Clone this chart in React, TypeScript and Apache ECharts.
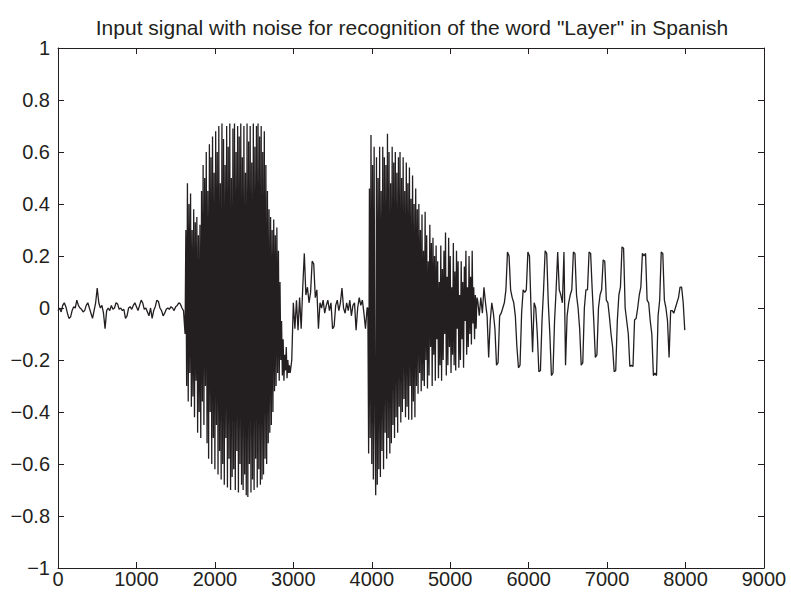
import React, { useEffect, useRef } from "react";
import * as echarts from "echarts";

const TITLE = 'Input signal with noise for recognition of the word "Layer" in Spanish';
const X_MIN = 0;
const X_MAX = 9000;
const X_INTERVAL = 1000;
const Y_MIN = -1;
const Y_MAX = 1;
const Y_INTERVAL = 0.2;

// Leading silence with low noise (sample index start / spacing / amplitudes)
const silenceStart = 0;
const silenceStep = 20;
const silence = [
  -0.01, 0.0, -0.015, 0.01, 0.02, 0.005, -0.02, -0.04, -0.035, -0.01,
  0.005, 0.0, 0.03, 0.01, 0.0, -0.005, -0.015, -0.01, 0.01, 0.02,
  0.0, -0.02, -0.04, -0.01, 0.02, 0.077, 0.02, 0.0, 0.01, -0.02,
  -0.08, -0.01, 0.0, -0.01, 0.01, -0.005, 0.0, 0.02, 0.015, -0.005,
  0.0, -0.01, -0.005, -0.04, -0.03, 0.0, 0.005, -0.005, 0.01, 0.02,
  0.005, -0.01, 0.01, 0.03, 0.02, -0.005, 0.0, -0.015, -0.03, 0.0,
  -0.04, -0.01, 0.005, 0.03, 0.025, 0.0, -0.01, -0.03, -0.02, -0.005,
  0.0, -0.005, 0.005, 0.0, -0.01, 0.005, 0.01, 0.02, 0.015, 0.0,
  -0.01,
];

// First voiced burst
const burst1Start = 1620;
const burst1Step = 10;
const burst1 = [
  -0.1, 0.3, -0.3, 0.48, -0.36, 0.4, -0.25, 0.44, -0.38, 0.3,
  -0.34, 0.38, -0.42, 0.33, -0.28, 0.35, -0.48, 0.28, -0.4, 0.32,
  -0.5, 0.45, -0.36, 0.55, -0.45, 0.5, -0.3, 0.6, -0.52, 0.45,
  -0.58, 0.63, -0.4, 0.58, -0.6, 0.66, -0.5, 0.52, -0.62, 0.68,
  -0.45, 0.6, -0.64, 0.7, -0.55, 0.48, -0.66, 0.71, -0.6, 0.65,
  -0.68, 0.55, -0.5, 0.7, -0.69, 0.62, -0.58, 0.71, -0.7, 0.5,
  -0.65, 0.69, -0.62, 0.71, -0.7, 0.6, -0.55, 0.7, -0.71, 0.66,
  -0.6, 0.71, -0.68, 0.58, -0.7, 0.7, -0.64, 0.52, -0.72, 0.71,
  -0.727, 0.64, -0.6, 0.7, -0.71, 0.56, -0.66, 0.71, -0.7, 0.62,
  -0.58, 0.7, -0.69, 0.71, -0.62, 0.66, -0.68, 0.7, -0.66, 0.6,
  -0.64, 0.68, -0.58, 0.55, -0.6, 0.45, -0.52, 0.38, -0.48, 0.35,
  -0.45, 0.3, -0.4, 0.34, -0.32, 0.28, -0.3, 0.31, -0.25, 0.22,
  -0.28, 0.1, -0.2, -0.05, -0.26, -0.12, -0.28, -0.18, -0.24, -0.15,
  -0.27, -0.2, -0.25, -0.22,
];

// Pause between the two bursts
const gapStart = 2960;
const gapStep = 20;
const gap = [
  -0.25, -0.2, 0.02, -0.08, 0.03, -0.085, 0.04, -0.08, 0.08, 0.21,
  0.05, 0.08, 0.02, 0.06, 0.18, 0.17, 0.04, 0.07, -0.08, 0.02,
  0.0, 0.03, -0.02, 0.01, 0.03, -0.01, 0.02, -0.08, -0.07, 0.01,
  0.03, -0.01, 0.02, 0.077, 0.0, -0.02, 0.02, -0.01, 0.03, -0.03,
  0.01, 0.02, -0.085, 0.0, 0.04, 0.01, 0.03, -0.02, -0.08, 0.0,
];

// Second voiced burst
const burst2Start = 3950;
const burst2Step = 10;
const burst2 = [
  0.0, -0.56, 0.46, -0.5, 0.665, -0.6, 0.55, -0.66, 0.62, -0.45,
  -0.72, 0.58, -0.68, 0.5, -0.62, 0.62, -0.65, 0.45, -0.55, 0.62,
  -0.62, 0.58, -0.48, 0.55, -0.58, 0.67, -0.5, 0.6, -0.56, 0.48,
  -0.52, 0.62, -0.45, 0.56, -0.5, 0.6, -0.42, 0.52, -0.48, 0.58,
  -0.38, 0.6, -0.44, 0.5, -0.4, 0.58, -0.35, 0.45, -0.42, 0.56,
  -0.38, 0.48, -0.43, 0.54, -0.3, 0.42, -0.43, 0.51, -0.36, 0.4,
  -0.42, 0.46, -0.3, 0.38, -0.33, 0.4, -0.25, 0.3, -0.32, 0.36,
  -0.28, 0.22, -0.3, 0.37, -0.2, 0.28, -0.31, 0.18, -0.26, 0.32,
  -0.15, 0.25, -0.3, 0.27, -0.18, 0.2, -0.28, 0.24, -0.12, 0.18,
  -0.27, 0.1, -0.22, 0.24, -0.28, 0.15, -0.2, 0.22, -0.1, 0.29,
  -0.26, 0.12, -0.22, 0.27, -0.15, 0.2, -0.25, 0.08, -0.18, 0.25,
  -0.22, 0.14, -0.24, 0.22, -0.08, 0.18, -0.23, 0.05, -0.2, 0.18,
  -0.12, 0.1, -0.23, 0.16, -0.05, 0.22, -0.18, 0.08, -0.15, 0.2,
  -0.1, 0.12, -0.14, 0.22, -0.06, 0.08, -0.12, 0.05, -0.08, 0.04,
];

// Periodic tail of the word
const tailStart = 5350;
const tailStep = 20;
const tail = [
  0.03, -0.03, 0.04, -0.02, 0.08, 0.02, -0.03, -0.19, -0.05, 0.02,
  -0.02, -0.08, -0.22, -0.21, -0.03, -0.02, 0.0, 0.02, 0.07, 0.215,
  0.2, 0.07, 0.04, 0.02, -0.03, -0.15, -0.23, -0.22, -0.02, 0.07,
  0.06, 0.07, 0.215, 0.2, 0.0, -0.17, 0.02, 0.0, -0.1, -0.245,
  -0.24, -0.05, 0.07, 0.22, 0.21, 0.02, -0.1, -0.26, -0.25, -0.05,
  0.07, 0.215, 0.07, 0.05, 0.02, 0.215, -0.22, -0.03, 0.02, 0.05,
  0.07, 0.215, 0.21, 0.05, 0.0, -0.08, -0.22, -0.21, 0.0, 0.07,
  0.07, 0.215, 0.21, 0.07, -0.05, -0.19, -0.18, 0.0, 0.05, 0.07,
  0.185, 0.18, 0.03, 0.02, -0.035, -0.1, -0.15, -0.245, -0.24, -0.05,
  0.05, 0.08, 0.235, 0.23, 0.0, -0.05, -0.1, -0.225, -0.22, -0.225,
  -0.045, -0.04, 0.0, 0.05, 0.08, 0.21, 0.2, 0.21, 0.03, 0.02,
  -0.05, -0.1, -0.26, -0.25, -0.26, -0.03, 0.03, 0.215, 0.21, 0.03,
  0.0, -0.05, -0.19, -0.01, -0.01, -0.02, 0.0, 0.02, 0.04, 0.08,
  0.08, 0.02, -0.085,
];

const segments: Array<[number, number, number[]]> = [
  [silenceStart, silenceStep, silence],
  [burst1Start, burst1Step, burst1],
  [gapStart, gapStep, gap],
  [burst2Start, burst2Step, burst2],
  [tailStart, tailStep, tail],
];

const INK = "#231f20";
const FONT = "Liberation Sans, Arial, Helvetica, sans-serif";
const LABEL_SIZE = 20;

export default function App() {
  const ref = useRef<HTMLDivElement>(null);
  useEffect(() => {
    if (!ref.current) return;
    const chart = echarts.init(ref.current, undefined, { renderer: "svg" });
    const data: number[][] = [];
    segments.forEach(([start, step, vals]) => {
      vals.forEach((v, i) => data.push([start + i * step, v]));
    });
    const yFmt = (v: number) => {
      const r = Math.round(v * 10) / 10;
      return r < 0 ? "\u2212" + String(Math.abs(r)) : String(r);
    };
    const xFmt = (v: number) => String(Math.round(v));
    const axisCommon = {
      axisLine: { show: true, onZero: false, lineStyle: { color: INK, width: 1 } },
      axisTick: { show: true, inside: true, length: 6, lineStyle: { color: INK } },
      splitLine: { show: false },
    };
    chart.setOption({
      animation: false,
      backgroundColor: "#ffffff",
      grid: { left: 58, right: 27, top: 48, bottom: 29, containLabel: false },
      graphic: [
        {
          type: "text",
          x: 412,
          y: 27,
          style: {
            text: TITLE,
            textAlign: "center",
            textVerticalAlign: "middle",
            fontSize: 21,
            fontFamily: FONT,
            fill: INK,
          },
        },
      ],
      xAxis: [
        {
          type: "value",
          min: X_MIN,
          max: X_MAX,
          interval: X_INTERVAL,
          position: "bottom",
          ...axisCommon,
          axisLabel: { color: INK, fontSize: LABEL_SIZE, fontFamily: FONT, margin: 1, formatter: xFmt },
        },
        {
          type: "value",
          min: X_MIN,
          max: X_MAX,
          interval: X_INTERVAL,
          position: "top",
          ...axisCommon,
          axisLabel: { show: false },
        },
      ],
      yAxis: [
        {
          type: "value",
          min: Y_MIN,
          max: Y_MAX,
          interval: Y_INTERVAL,
          position: "left",
          ...axisCommon,
          axisLabel: { color: INK, fontSize: LABEL_SIZE, fontFamily: FONT, margin: 8, formatter: yFmt },
        },
        {
          type: "value",
          min: Y_MIN,
          max: Y_MAX,
          interval: Y_INTERVAL,
          position: "right",
          ...axisCommon,
          axisLabel: { show: false },
        },
      ],
      series: [
        {
          type: "line",
          xAxisIndex: 0,
          yAxisIndex: 0,
          data,
          showSymbol: false,
          symbol: "none",
          lineStyle: { color: INK, width: 1.3 },
          silent: true,
        },
      ],
    });
    return () => chart.dispose();
  }, []);
  return (
    <div
      ref={ref}
      style={{ position: "fixed", left: 0, top: 0, width: 791, height: 597, background: "#fff" }}
    />
  );
}
